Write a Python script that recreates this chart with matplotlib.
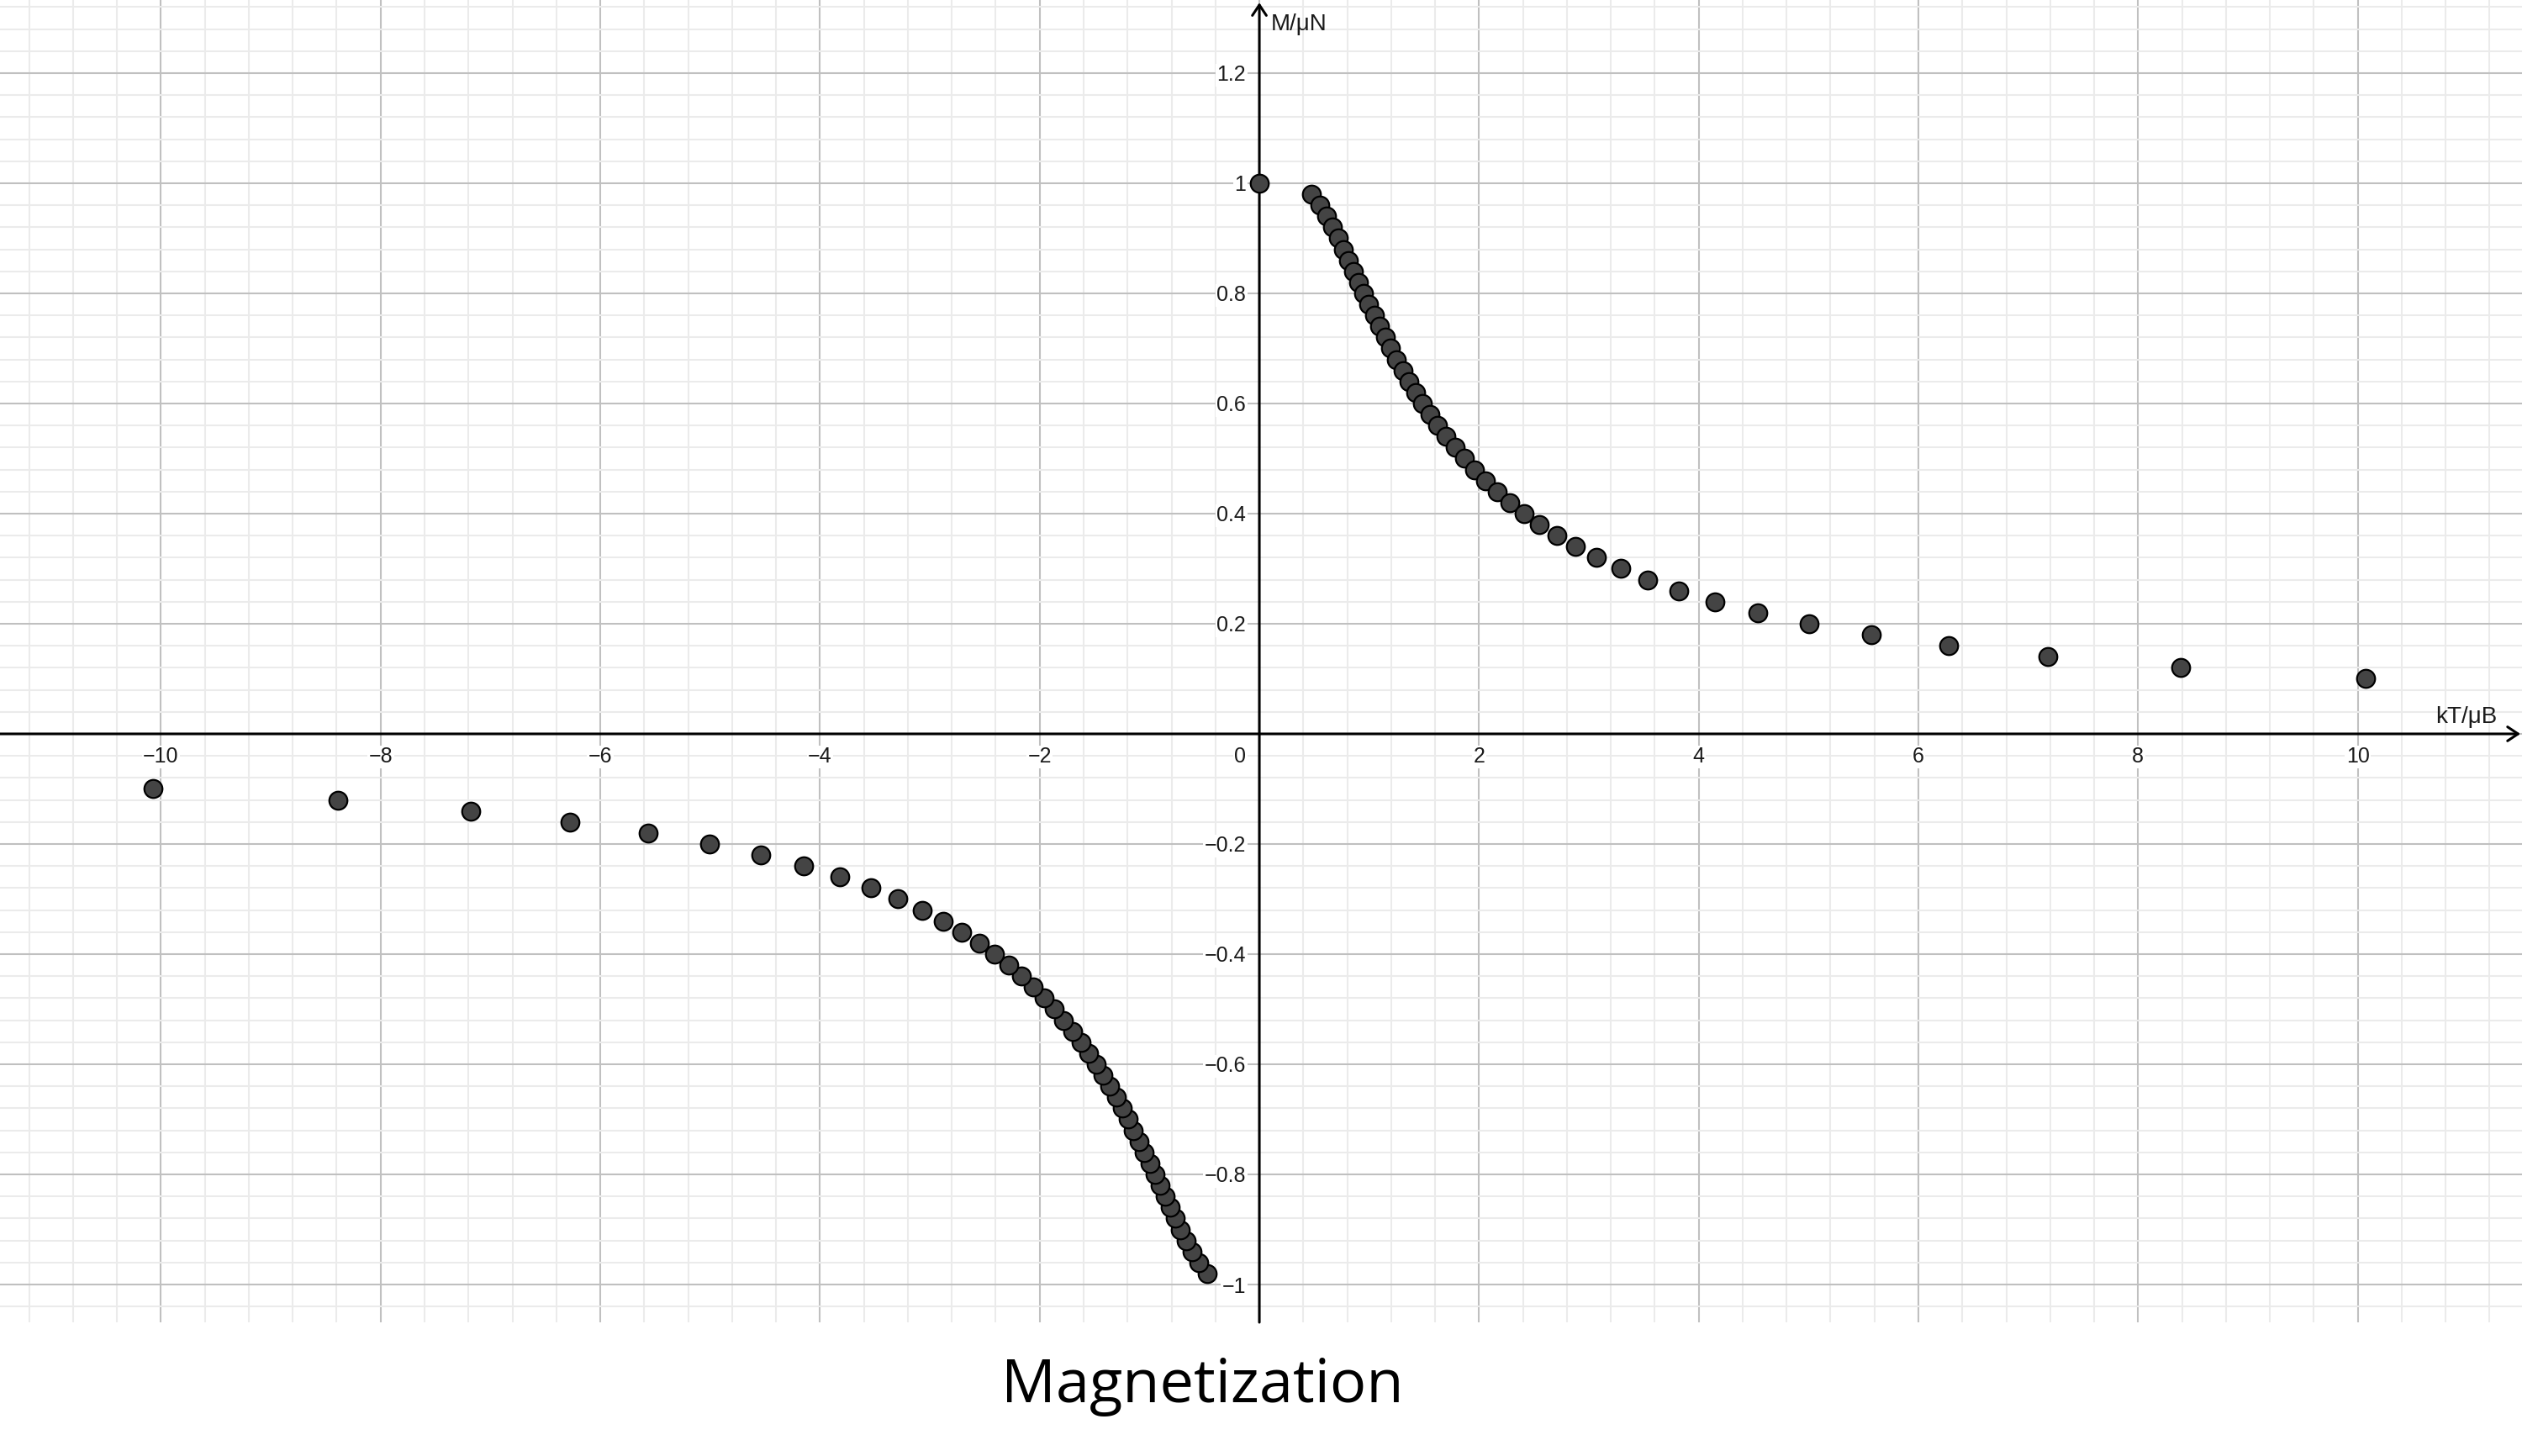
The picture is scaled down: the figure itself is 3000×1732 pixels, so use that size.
import matplotlib
matplotlib.use("Agg")
import matplotlib.pyplot as plt
from matplotlib.ticker import MultipleLocator

# values
m_pos = [0.98, 0.96, 0.94, 0.92, 0.90, 0.88, 0.86, 0.84, 0.82, 0.80,
         0.78, 0.76, 0.74, 0.72, 0.70, 0.68, 0.66, 0.64, 0.62, 0.60,
         0.58, 0.56, 0.54, 0.52, 0.50, 0.48, 0.46, 0.44, 0.42, 0.40,
         0.38, 0.36, 0.34, 0.32, 0.30, 0.28, 0.26, 0.24, 0.22, 0.20,
         0.18, 0.16, 0.14, 0.12, 0.10]
kt_pos = [0.473, 0.553, 0.614, 0.669, 0.719, 0.767, 0.814, 0.860, 0.906, 0.952,
          0.998, 1.046, 1.094, 1.145, 1.196, 1.250, 1.305, 1.363, 1.424, 1.488,
          1.555, 1.626, 1.702, 1.782, 1.868, 1.961, 2.060, 2.168, 2.284, 2.412,
          2.552, 2.707, 2.879, 3.072, 3.289, 3.535, 3.819, 4.149, 4.537, 5.002,
          5.568, 6.274, 7.182, 8.385, 10.072]

m_neg = [-0.98, -0.96, -0.94, -0.92, -0.90, -0.88, -0.86, -0.84, -0.82, -0.80,
         -0.78, -0.76, -0.74, -0.72, -0.70, -0.68, -0.66, -0.64, -0.62, -0.60,
         -0.58, -0.56, -0.54, -0.52, -0.50, -0.48, -0.46, -0.44, -0.42, -0.40,
         -0.38, -0.36, -0.34, -0.32, -0.30, -0.28, -0.26, -0.24, -0.22, -0.20,
         -0.18, -0.16, -0.14, -0.12, -0.10]
kt_neg = [-0.473, -0.553, -0.614, -0.669, -0.719, -0.767, -0.814, -0.860, -0.906, -0.952,
          -0.998, -1.046, -1.094, -1.145, -1.196, -1.250, -1.305, -1.363, -1.424, -1.488,
          -1.555, -1.626, -1.702, -1.782, -1.868, -1.961, -2.060, -2.168, -2.284, -2.412,
          -2.552, -2.707, -2.879, -3.072, -3.289, -3.535, -3.819, -4.149, -4.537, -5.002,
          -5.568, -6.274, -7.182, -8.385, -10.072]

kt_zero = [0.0]
m_zero = [1.0]

x_ticks = [-10, -8, -6, -4, -2, 2, 4, 6, 8, 10]
x_labels = ["−10", "−8", "−6", "−4", "−2", "2", "4", "6", "8", "10"]
y_ticks = [-1.0, -0.8, -0.6, -0.4, -0.2, 0.2, 0.4, 0.6, 0.8, 1.0, 1.2]
y_labels = ["−1", "−0.8", "−0.6", "−0.4", "−0.2", "0.2", "0.4", "0.6", "0.8", "1", "1.2"]

W, H = 3000, 1732
fig = plt.figure(figsize=(30, 17.32), dpi=100)
ax = fig.add_axes([0, 1 - 1573 / H, 1, 1573 / H])

xmin, xmax = -11.465, 11.495
ymin, ymax = -1.0687, 1.3328
ax.set_xlim(xmin, xmax)
ax.set_ylim(ymin, ymax)

for s in ax.spines.values():
    s.set_visible(False)
ax.xaxis.set_major_locator(MultipleLocator(2))
ax.xaxis.set_minor_locator(MultipleLocator(0.4))
ax.yaxis.set_major_locator(MultipleLocator(0.2))
ax.yaxis.set_minor_locator(MultipleLocator(0.04))
ax.tick_params(which="both", length=0, labelbottom=False, labelleft=False)
ax.grid(which="minor", color="#ebebeb", lw=1.5)
ax.grid(which="major", color="#c0c0c0", lw=1.5)
ax.set_axisbelow(True)

# axes with open arrow heads
arrow = dict(arrowstyle="->,head_length=0.45,head_width=0.3", lw=2.2,
             color="black", shrinkA=0, shrinkB=0, mutation_scale=20)
ax.annotate("", xy=(11.48, 0), xytext=(xmin, 0), arrowprops=arrow,
            annotation_clip=False, zorder=3)
ax.annotate("", xy=(0, 1.328), xytext=(0, ymin), arrowprops=arrow,
            annotation_clip=False, zorder=3)

tick_font = dict(family="Liberation Sans", fontsize=18, color="#1a1a1a")
box = dict(facecolor="white", edgecolor="none", pad=1)
for xv, lab in zip(x_ticks, x_labels):
    ax.annotate(lab, (xv, 0), xytext=(0, -11), textcoords="offset points",
                ha="center", va="top", bbox=box, zorder=2, **tick_font)
for yv, lab in zip(y_ticks, y_labels):
    ax.annotate(lab, (0, yv), xytext=(-11.5, 0), textcoords="offset points",
                ha="right", va="center_baseline", bbox=box, zorder=2, **tick_font)
ax.annotate("0", (0, 0), xytext=(-11.5, -11), textcoords="offset points",
            ha="right", va="top", bbox=box, zorder=2, **tick_font)

ax.annotate("kT/μB", (xmax, 0), xytext=(-21, 9.4), textcoords="offset points",
            ha="right", va="baseline", family="Liberation Sans", fontsize=20,
            color="#1a1a1a", annotation_clip=False)
ax.annotate("M/μN", (0, ymax), xytext=(10, -26), textcoords="offset points",
            ha="left", va="baseline", family="Liberation Sans", fontsize=20,
            color="#1a1a1a", annotation_clip=False)

dot = dict(ls="none", marker="o", ms=15.5, mfc="#444444", mec="black",
           mew=1.6, zorder=5, clip_on=False)
ax.plot(kt_pos, m_pos, **dot)
ax.plot(kt_neg, m_neg, **dot)
ax.plot(kt_zero, m_zero, **dot)

fig.text(1430 / W, 1 - 1668 / H, "Magnetization", family="Open Sans",
         fontsize=52, ha="center", va="baseline", color="black")

fig.savefig("out.png", dpi=100, facecolor="white")
